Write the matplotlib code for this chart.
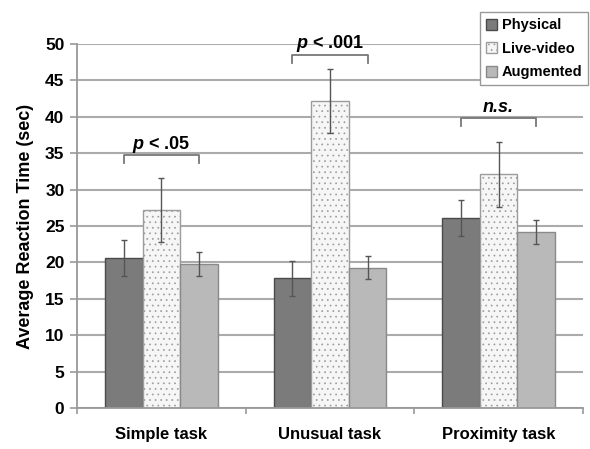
import numpy as np
import matplotlib.pyplot as plt
from matplotlib.patches import Patch

plt.rcParams['font.family'] = ['Liberation Sans', 'DejaVu Sans']
plt.rcParams['mathtext.fontset'] = 'custom'
plt.rcParams['mathtext.it'] = 'Liberation Sans:italic:bold'
plt.rcParams['hatch.linewidth'] = 0.5
plt.rcParams['hatch.color'] = '#cfcfcf'

# data
tasks = ['Simple task', 'Unusual task', 'Proximity task']
conditions = ['Physical', 'Live-video', 'Augmented']
physical = [20.6, 17.8, 26.1]
live_video = [27.2, 42.2, 32.1]
augmented = [19.8, 19.3, 24.2]
physical_err = [2.5, 2.4, 2.5]
live_video_err = [4.4, 4.4, 4.45]
augmented_err = [1.6, 1.6, 1.65]
sig_labels = [r'$\it{p}$ < .05', r'$\it{p}$ < .001', 'n.s.']
sig_heights = [34.7, 48.5, 39.8]

fig = plt.figure(figsize=(5.9, 4.49), dpi=100)
ax = fig.add_axes([0.1305, 0.0913, 0.8575, 0.8107])

x = np.arange(len(tasks))
w = 0.223
face = ['#7b7b7b', '#f6f6f6', '#b9b9b9']
edge = ['#4a4a4a', '#9c9c9c', '#8a8a8a']
hatches = [None, '...', None]
series = [physical, live_video, augmented]
errs = [physical_err, live_video_err, augmented_err]

for i, (vals, err) in enumerate(zip(series, errs)):
    pos = x + (i - 1) * w
    ax.bar(pos, vals, width=w, color=face[i], edgecolor=edge[i],
           linewidth=1.0, hatch=hatches[i], zorder=2)
    ax.errorbar(pos, vals, yerr=err, fmt='none', ecolor='#555555',
                elinewidth=1.0, capsize=2, capthick=1.0, zorder=3)

# significance brackets
for xi, lab, h in zip(x, sig_labels, sig_heights):
    x0, x1 = xi - w, xi + w
    ax.plot([x0, x0, x1, x1], [h - 1.1, h, h, h - 1.1], color='#777777',
            lw=1.3, clip_on=False, zorder=4)
    ax.text(xi, h + 0.9, lab, ha='center', va='baseline', fontsize=13,
            fontweight='bold', style='normal' if '$' in lab else 'italic',
            clip_on=False)

ax.set_xlim(-0.5, 2.5)
ax.set_ylim(0, 50)
ax.set_yticks(np.arange(0, 51, 5))
ax.yaxis.grid(True, color='#ababab', lw=1.5, zorder=0)
ax.set_axisbelow(True)
ax.set_xticks(x)
ax.set_xticklabels(tasks, fontsize=12, fontweight='bold')
ax.set_xticks([-0.5, 0.5, 1.5, 2.5], minor=True)
ax.tick_params(axis='x', which='major', length=0, pad=14)
ax.tick_params(axis='x', which='minor', length=4, color='#999999', width=1.2)
ax.tick_params(axis='y', length=5, color='#999999', width=1.2, labelsize=12.5, pad=4)
for t in ax.get_yticklabels():
    t.set_fontweight('bold')
ax.set_ylabel('Average Reaction Time (sec)', fontsize=13, fontweight='bold', labelpad=8)

for s in ['top', 'right']:
    ax.spines[s].set_visible(False)
for s in ['left', 'bottom']:
    ax.spines[s].set_color('#999999')
    ax.spines[s].set_linewidth(1.3)

handles = [Patch(facecolor=face[i], edgecolor=edge[i], hatch=hatches[i])
           for i in range(3)]
leg = fig.legend(handles, conditions, loc='upper right', bbox_to_anchor=(1.004, 0.982),
                 fancybox=False, framealpha=1, edgecolor='#999999',
                 handlelength=0.75, handleheight=0.75, handletextpad=0.3,
                 labelspacing=0.65, borderpad=0.4, borderaxespad=0.3,
                 prop={'size': 10.5, 'weight': 'bold'})
leg.get_frame().set_linewidth(1.0)

fig.savefig('out.png', dpi=100)
